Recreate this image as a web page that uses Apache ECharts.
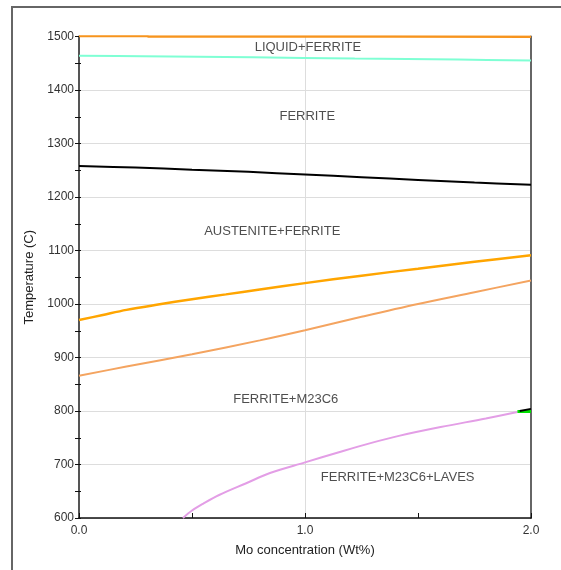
<!DOCTYPE html>
<html><head><meta charset="utf-8">
<script src="https://cdn.jsdelivr.net/npm/echarts@6/dist/echarts.min.js"></script>
<style>html,body{margin:0;padding:0;background:#fff}#c{width:561px;height:570px}</style>
</head><body><div id="c"></div>
<script>
const liquidLine = [[0,1501],[0.3,1501],[0.31,1500],[1.0,1500],[2.0,1499.5]];
const ferriteTop = [[0,1464],[0.28,1463],[0.77,1461],[1.22,1459],[1.68,1457],[2.0,1455]];
const austeniteTop = [[0,1258],[0.25,1255],[0.5,1251],[0.75,1247],[1.0,1242],[1.25,1237],[1.5,1232],[1.75,1227],[2.0,1223]];
const austeniteBottom = [[0,970],[0.1,979],[0.21,989],[0.35,999],[0.5,1009],[0.65,1018],[0.8,1027],[1.0,1039],[1.25,1053],[1.5,1066],[1.75,1079],[2.0,1091]];
const m23c6Top = [[0,866],[0.21,883],[0.5,906],[0.8,932],[1.0,951],[1.25,976],[1.5,1000],[1.75,1022],[2.0,1044]];
const lavesTop = [[0.46,600],[0.5,614],[0.55,627],[0.62,643],[0.74,665],[0.845,684],[1.0,704],[1.15,723],[1.29,740],[1.42,754],[1.6,770],[1.8,786],[1.94,798]];
const greenSeg = [[1.94,799],[2.0,799]];
const blackSeg = [[1.95,800],[2.0,804]];
const regionLabels = [
  {name:'LIQUID+FERRITE', value:[1.013,1480]},
  {name:'FERRITE', value:[1.01,1351]},
  {name:'AUSTENITE+FERRITE', value:[0.855,1136]},
  {name:'FERRITE+M23C6', value:[0.915,822]},
  {name:'FERRITE+M23C6+LAVES', value:[1.41,675]}
];
const yMin = 600, yMax = 1500;

const chart = echarts.init(document.getElementById('c'));
const font = '"Liberation Sans", Arial, sans-serif';
function line(data,color,w){return {type:'line',data:data,showSymbol:false,symbol:'none',smooth:0.35,lineStyle:{color:color,width:w||2},itemStyle:{color:color},silent:true,animation:false,xAxisIndex:0,yAxisIndex:0,z:3};}
chart.setOption({
  animation:false,
  grid:{left:79,right:30,top:36.5,bottom:52},
  graphic:[{type:'rect',shape:{x:12,y:7,width:600,height:600},style:{fill:'none',stroke:'#666',lineWidth:2},silent:true}],
  xAxis:[{
    type:'value',min:0,max:2,interval:1,
    name:'Mo concentration (Wt%)',nameLocation:'middle',nameGap:26,
    nameTextStyle:{fontFamily:font,fontSize:13,color:'#222'},
    axisLine:{show:true,onZero:false,lineStyle:{color:'#111',width:1.5}},
    axisTick:{show:true,inside:true,length:5,lineStyle:{color:'#111'}},
    minorTick:{show:true,splitNumber:2,length:5,lineStyle:{color:'#111'}},
    axisLabel:{fontFamily:font,fontSize:12,color:'#333',margin:7,formatter:v=>v.toFixed(1)},
    splitLine:{show:true,lineStyle:{color:'#ddd',width:1}}
  }],
  yAxis:[{
    type:'value',min:yMin,max:yMax,interval:100,
    name:'Temperature (C)',nameLocation:'middle',nameGap:42,
    nameTextStyle:{fontFamily:font,fontSize:13,color:'#222'},
    axisLine:{show:true,onZero:false,lineStyle:{color:'#555',width:2}},
    axisTick:{show:true,inside:false,length:4,lineStyle:{color:'#111'}},
    minorTick:{show:true,splitNumber:2,length:4,lineStyle:{color:'#111'}},
    axisLabel:{fontFamily:font,fontSize:12,color:'#333',margin:5,formatter:v=>String(v)},
    splitLine:{show:true,lineStyle:{color:'#ddd',width:1}}
  },{
    type:'value',min:yMin,max:yMax,interval:100,position:'left',
    axisLine:{show:false},
    axisTick:{show:true,inside:true,length:2,lineStyle:{color:'#111'}},
    minorTick:{show:true,splitNumber:2,length:2,lineStyle:{color:'#111'}},
    axisLabel:{show:false},splitLine:{show:false}
  },{
    type:'value',min:yMin,max:yMax,position:'right',
    axisLine:{show:true,lineStyle:{color:'#666',width:2}},
    axisTick:{show:false},axisLabel:{show:false},splitLine:{show:false}
  }],
  series:[
    line(liquidLine,'#F7941D',2.5),
    line(ferriteTop,'#7FFFD4',2),
    line(austeniteTop,'#000000',2),
    line(austeniteBottom,'#FFA500',2.5),
    line(m23c6Top,'#F4A460',2),
    line(lavesTop,'#E39EE6',2),
    line(greenSeg,'#00E000',3),
    line(blackSeg,'#000000',2),
    {type:'scatter',data:regionLabels,symbolSize:0,silent:true,z:5,
     label:{show:true,position:'inside',formatter:p=>p.name,fontFamily:font,fontSize:13,color:'#222'}}
  ]
});
</script></body></html>
